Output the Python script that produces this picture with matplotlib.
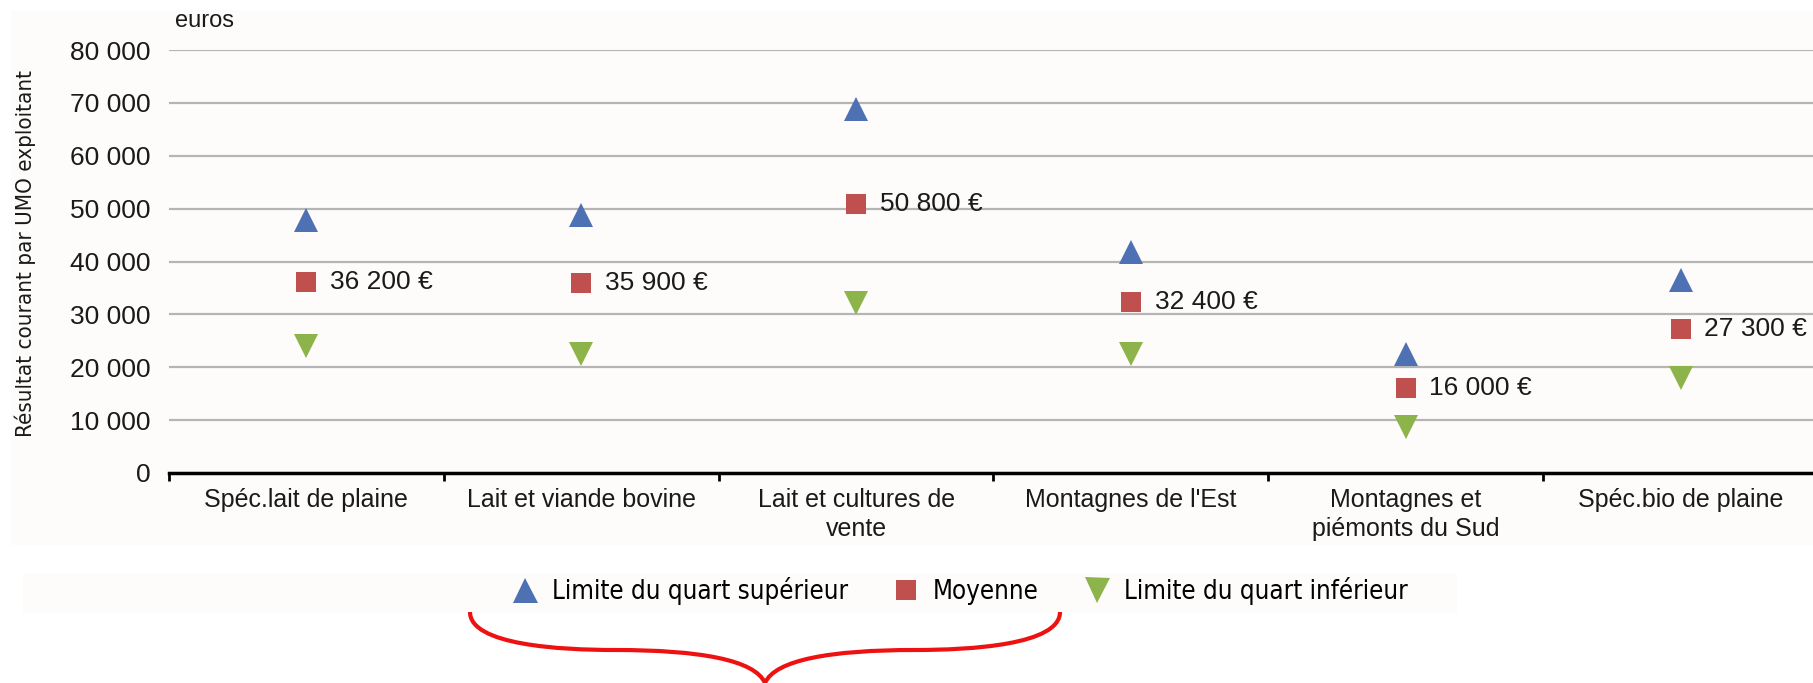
import matplotlib
matplotlib.use('Agg')
import matplotlib.pyplot as plt
from matplotlib.lines import Line2D
from matplotlib.patches import Rectangle, PathPatch
from matplotlib.path import Path
import matplotlib.ticker as ticker

#### data
categories = ["Spéc.lait de plaine", "Lait et viande bovine", "Lait et cultures de\nvente",
              "Montagnes de l'Est", "Montagnes et\npiémonts du Sud", "Spéc.bio de plaine"]
upper = [47800, 48700, 68800, 41800, 22600, 36500]
mean = [36200, 35900, 50800, 32400, 16000, 27300]
lower = [24000, 22500, 32100, 22500, 8700, 18000]
mean_labels = ["36 200 €", "35 900 €", "50 800 €", "32 400 €", "16 000 €", "27 300 €"]
yticks = [0, 10000, 20000, 30000, 40000, 50000, 60000, 70000, 80000]

#### style
blue = '#4e71b3'
red = '#c0504d'
green = '#8cb44a'
W, H = 1813, 683
plain = ['Liberation Sans', 'DejaVu Sans']
plt.rcParams['font.family'] = plain
cond = {'family': 'DejaVu Sans', 'stretch': 'condensed'}

fig = plt.figure(figsize=(W / 100, H / 100), dpi=100, facecolor='white')

# light background boxes (pixel coords -> figure fraction)
def box(x0, y0, x1, y1):
    fig.patches.append(Rectangle((x0 / W, 1 - y1 / H), (x1 - x0) / W, (y1 - y0) / H,
                                 transform=fig.transFigure, facecolor='#fdfcfa',
                                 edgecolor='none', zorder=-5))
box(11, 10, 1813, 545)
box(23, 573, 1457, 613)

left, right, top, bottom = 169, 1818, 50, 473
ax = fig.add_axes([left / W, 1 - bottom / H, (right - left) / W, (bottom - top) / H])
ax.set_facecolor('none')

x = list(range(len(categories)))
ax.plot(x, upper, linestyle='none', marker='^', ms=17, color=blue, mew=0, zorder=3)
ax.plot(x, mean, linestyle='none', marker='s', ms=14.5, color=red, mew=0, zorder=3)
ax.plot(x, lower, linestyle='none', marker='v', ms=17, color=green, mew=0, zorder=3)
for xi, yi, lab in zip(x, mean, mean_labels):
    ax.annotate(lab, (xi, yi), xytext=(17, 0), textcoords='offset points',
                va='center', ha='left', fontsize=19, color='#1a1a1a')

ax.set_xlim(-0.5, len(categories) - 0.5)
ax.set_ylim(0, 80000)
ax.set_yticks(yticks)
ax.yaxis.set_major_formatter(ticker.FuncFormatter(lambda v, p: '{:,.0f}'.format(v).replace(',', ' ')))
ax.tick_params(axis='y', length=0, pad=13, labelsize=19, labelcolor='#1a1a1a')
ax.grid(axis='y', color='#b5b5b5', linewidth=1.6)
ax.set_axisbelow(True)

ax.set_xticks([i - 0.5 for i in range(len(categories) + 1)])
ax.set_xticklabels([])
ax.set_xticks(x, minor=True)
ax.set_xticklabels(categories, minor=True, fontsize=18, linespacing=1.25)
ax.tick_params(axis='x', which='major', length=6, width=2, direction='out', color='black')
ax.tick_params(axis='x', which='minor', length=0, pad=11, labelcolor='#1a1a1a')

for s in ['left', 'right', 'top']:
    ax.spines[s].set_visible(False)
ax.spines['bottom'].set_linewidth(2.5)
ax.spines['bottom'].set_color('black')

fig.text(175 / W, 1 - 21 / H, 'euros', fontsize=17, va='center', ha='left', color='#1a1a1a')
fig.text(25 / W, 1 - 254 / H, 'Résultat courant par UMO exploitant', rotation=90,
         fontsize=16, va='center', ha='center', color='#1a1a1a', **cond)

handles = [Line2D([], [], linestyle='none', marker='^', ms=18, color=blue, mew=0),
           Line2D([], [], linestyle='none', marker='s', ms=15, color=red, mew=0),
           Line2D([], [], linestyle='none', marker='v', ms=18, color=green, mew=0)]
fig.legend(handles, ['Limite du quart supérieur', 'Moyenne', 'Limite du quart inférieur'],
           loc='center', bbox_to_anchor=(960 / W, 1 - 591 / H), ncol=3, frameon=False,
           prop={'family': 'DejaVu Sans', 'stretch': 'condensed', 'size': 18.5},
           handlelength=1.0, handletextpad=0.55, columnspacing=1.75, borderpad=0)

# red curly brace under the first two legend entries
verts = [(470, 612), (470, 645), (560, 650), (615, 650),
         (700, 650), (755, 660), (765, 683),
         (775, 660), (830, 650), (915, 650),
         (970, 650), (1060, 645), (1060, 612)]
codes = [Path.MOVETO] + [Path.CURVE4] * 12
brace = Path([(vx / W, 1 - vy / H) for vx, vy in verts], codes)
fig.patches.append(PathPatch(brace, transform=fig.transFigure, facecolor='none',
                             edgecolor='#ee1111', linewidth=3, zorder=5))

fig.savefig('out.png', dpi=100, facecolor='white')
